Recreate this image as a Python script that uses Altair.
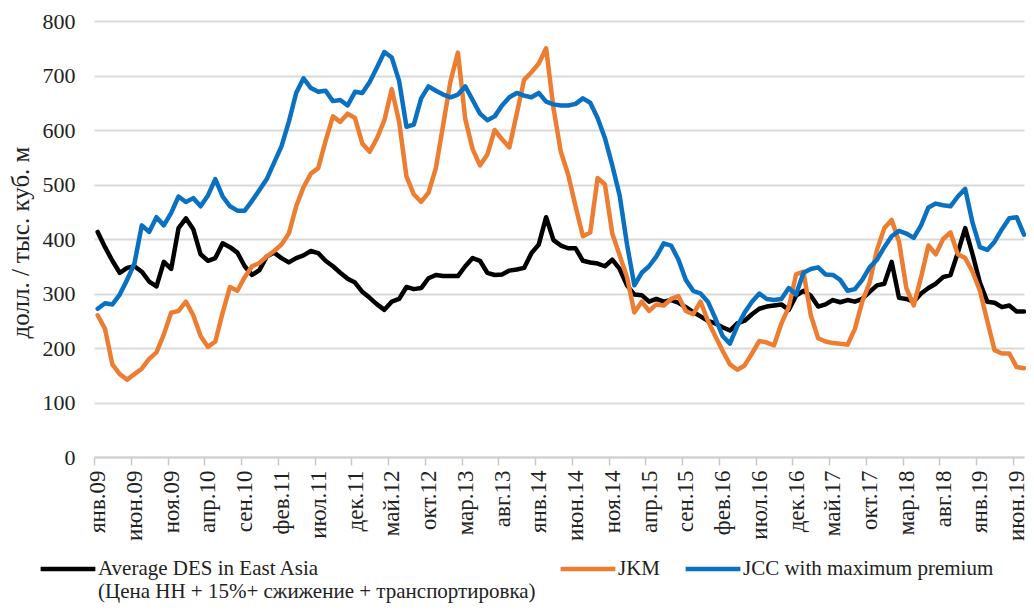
import altair as alt
import pandas as pd

tick_labels = ["янв.09", "июн.09", "ноя.09", "апр.10", "сен.10", "фев.11", "июл.11", "дек.11",
               "май.12", "окт.12", "мар.13", "авг.13", "янв.14", "июн.14", "ноя.14", "апр.15",
               "сен.15", "фев.16", "июл.16", "дек.16", "май.17", "окт.17", "мар.18", "авг.18",
               "янв.19", "июн.19"]

series_names = ["Average DES in East Asia", "JKM", "JCC with maximum premium"]
legend_note = "(Цена НН + 15%+ сжижение + транспортировка)"
series_colors = ["#000000", "#ED7D31", "#0A70C2"]

# monthly values from Jan 2009, $ per thousand cubic metres
des_east_asia = [413, 385, 360, 338, 347, 350, 340, 322, 313, 358, 345, 420, 438, 418, 372, 360,
                 365, 392, 385, 375, 350, 334, 343, 368, 375, 365, 357, 365, 370, 378, 374, 360,
                 350, 338, 327, 320, 303, 292, 280, 270, 285, 290, 312, 308, 310, 328, 334, 332,
                 332, 332, 350, 365, 360, 338, 334, 335, 342, 344, 347, 374, 390, 440, 398, 388,
                 383, 383, 360, 357, 355, 350, 362, 345, 315, 298, 297, 285, 290, 285, 288, 283,
                 275, 266, 258, 250, 245, 238, 232, 245, 250, 262, 272, 276, 278, 280, 270, 296,
                 305, 296, 276, 280, 288, 284, 288, 285, 290, 303, 315, 318, 358, 292, 290, 285,
                 300, 310, 318, 330, 334, 375, 420, 372, 320, 285, 283, 275, 278, 267, 267]
jkm = [260, 235, 170, 152, 142, 152, 162, 180, 192, 225, 265, 268, 285, 260, 222, 202,
       212, 265, 312, 305, 330, 350, 356, 368, 378, 390, 410, 460, 495, 520, 530, 580,
       625, 615, 630, 622, 575, 560, 585, 618, 675, 615, 515, 482, 468, 485, 530, 610,
       690, 742, 620, 565, 535, 555, 600, 583, 568, 630, 692, 706, 722, 750, 640, 560,
       518, 460, 405, 412, 512, 500, 410, 370, 330, 265, 285, 268, 280, 278, 290, 295,
       268, 262, 285, 250, 222, 195, 170, 160, 168, 190, 213, 210, 205, 245, 275, 335,
       340, 260, 218, 212, 209, 208, 206, 235, 285, 320, 380, 420, 435, 395, 310, 278,
       330, 388, 372, 400, 412, 372, 365, 340, 305, 250, 196, 190, 190, 165, 163]
jcc_premium = [272, 282, 280, 298, 325, 355, 425, 413, 440, 425, 448, 478, 468, 475, 460, 480,
               510, 478, 460, 452, 452, 470, 490, 510, 540, 570, 615, 668, 695, 677, 670, 672,
               653, 655, 645, 670, 668, 688, 715, 743, 733, 690, 606, 610, 658, 680, 672, 665,
               660, 665, 680, 655, 630, 618, 625, 645, 660, 668, 663, 660, 668, 652, 647, 645,
               645, 648, 658, 650, 622, 585, 535, 480, 390, 315, 338, 350, 368, 392, 388, 362,
               325, 305, 300, 285, 255, 222, 208, 240, 265, 285, 300, 290, 288, 290, 310, 298,
               338, 345, 348, 335, 334, 325, 305, 308, 325, 348, 362, 385, 405, 415, 410, 402,
               425, 458, 465, 462, 460, 478, 492, 430, 385, 380, 395, 418, 438, 440, 408]

rows = []
for name, vals in zip(series_names, [des_east_asia, jkm, jcc_premium]):
    for i, v in enumerate(vals):
        rows.append({"i": i, "v": v, "s": name})
df = pd.DataFrame(rows)

n = len(des_east_asia)
tick_vals = [k * 5 - 0.5 for k in range(len(tick_labels))]
labels_js = "[" + ",".join("'" + t + "'" for t in tick_labels) + "]"

FONT = "Liberation Serif"

legend_expr = ("datum.label == '" + series_names[0] + "' ? ['" + series_names[0] +
               "', '" + legend_note + "'] : [datum.label, ' ']")

chart = alt.Chart(df).mark_line(strokeWidth=4.5, strokeJoin="round", strokeCap="round").encode(
    x=alt.X("i:Q",
            scale=alt.Scale(domain=[-0.5, n - 1], nice=False, zero=False),
            axis=alt.Axis(values=tick_vals,
                          labelExpr=labels_js + "[round((datum.value + 0.5) / 5)]",
                          labelAngle=270, labelAlign="right", labelBaseline="middle",
                          labelOffset=3.7, labelPadding=5, labelFont=FONT, labelFontSize=23,
                          labelColor="#222222", grid=False, tickSize=8, tickColor="#c8c8c8",
                          tickWidth=1.5, domainColor="#d0d0d0", domainWidth=2, title=None,
                          labelOverlap=False, labelFlush=False)),
    y=alt.Y("v:Q",
            scale=alt.Scale(domain=[0, 800], nice=False),
            axis=alt.Axis(values=list(range(0, 801, 100)), grid=True, gridColor="#d9d9d9",
                          gridWidth=2, domain=False, ticks=False, labelPadding=19,
                          labelFont=FONT, labelFontSize=22, labelColor="#222222",
                          title="долл. / тыс. куб. м", titleFont=FONT, titleFontSize=25,
                          titleFontWeight="normal", titleColor="#222222", titleAngle=270,
                          titleX=-74, titleY=221, titleAlign="center", titleBaseline="middle")),
    color=alt.Color("s:N",
                    scale=alt.Scale(domain=series_names, range=series_colors),
                    legend=alt.Legend(title=None, orient="none", direction="horizontal",
                                      legendX=-56, legendY=518, symbolType="stroke",
                                      symbolStrokeWidth=4.5, symbolSize=3000, labelFont=FONT,
                                      labelFontSize=21, labelColor="#222222", labelOffset=0,
                                      columnPadding=15, padding=0, labelLimit=800,
                                      labelBaseline="middle", labelExpr=legend_expr)),
    order="i:Q",
).properties(
    width=930, height=436,
    autosize=alt.AutoSizeParams(type="none"),
    padding={"left": 86, "top": 13, "right": 2, "bottom": 147},
).configure_view(stroke=None)

chart.save("out.html", embed_options={"renderer": "svg", "actions": False})
